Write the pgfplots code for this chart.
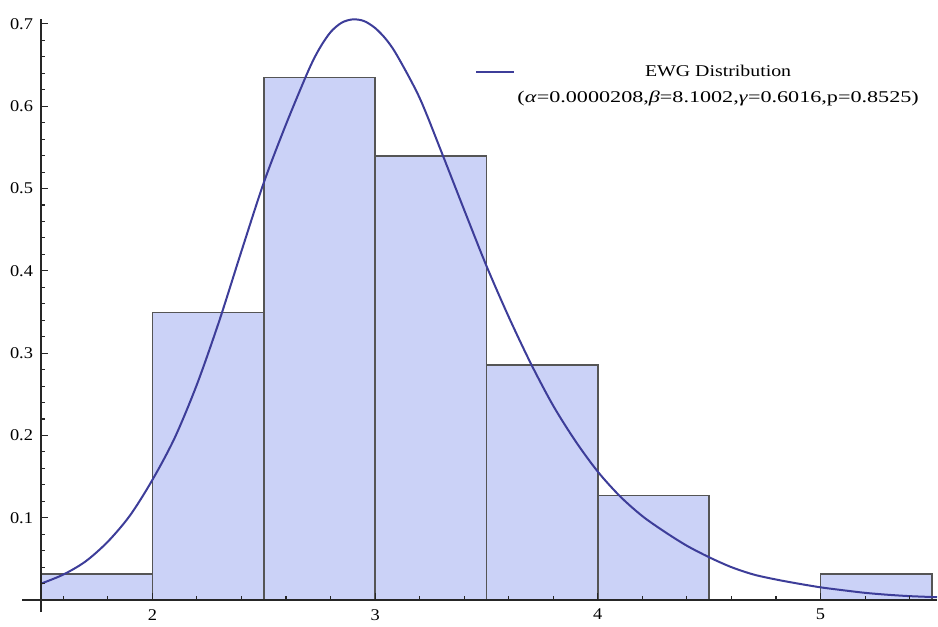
\documentclass[border=0pt]{standalone}
\usepackage{fontspec}
\setmainfont{Liberation Serif}[FakeStretch=1.12]
\newfontfamily\legA{Liberation Serif}[FakeStretch=1.21]
\newfontfamily\legB{Liberation Serif}[FakeStretch=1.35]
\usepackage{pgfplots}
\pgfplotsset{compat=1.18}
\definecolor{barfill}{RGB}{203,210,247}
\definecolor{curve}{RGB}{61,61,153}
\definecolor{baredge}{RGB}{85,85,85}
\begin{document}
\begin{tikzpicture}[font=\fontsize{8.2}{10}\selectfont]
\begin{axis}[
  scale only axis,
  width=448pt, height=290.7pt,
  xmin=1.5, xmax=5.523, ymin=0, ymax=0.7063,
  axis lines=left,
  axis line style={-, black!85, line width=0.75pt},
  clip=false,
  axis on top,
  xtick={2,3,4,5},
  minor xtick={1.6,1.8,2.2,2.4,2.6,2.8,3.2,3.4,3.6,3.8,4.2,4.4,4.6,4.8,5.2,5.4},
  ytick={0.1,0.2,0.3,0.4,0.5,0.6,0.7},
  minor ytick={0.02,0.04,0.06,0.08,0.12,0.14,0.16,0.18,0.22,0.24,0.26,0.28,0.32,0.34,0.36,0.38,0.42,0.44,0.46,0.48,0.52,0.54,0.56,0.58,0.62,0.64,0.66,0.68},
  tick align=inside,
  major tick length=3.65pt,
  minor tick length=2pt,
  tick style={black!85, line width=0.55pt},
  /pgf/number format/assume math mode=true,
  yticklabel style={/pgf/number format/fixed, /pgf/number format/precision=1, xshift=-0.5pt},
  xticklabel style={yshift=-1pt},
  legend style={draw=none, fill=none, inner sep=0pt, row sep=4pt,
    at={(rel axis cs:0.4844,0.9245)}, anchor=north west,
    cells={anchor=center}, nodes={inner sep=1pt}},
  legend image code/.code={\draw[#1] (0pt,0pt) -- (19pt,0pt);},
]
\addplot[ybar interval, fill=barfill, draw=baredge, line width=0.8pt, forget plot] coordinates {
  (1.5,0.031746) (2.0,0.349206) (2.5,0.634921) (3.0,0.539683)
  (3.5,0.285714) (4.0,0.126984) (4.5,0) (5.0,0.031746) (5.5,0)
};
\addplot[curve, line width=1pt, smooth] coordinates {
  (1.5,0.020) (1.6,0.031) (1.7,0.047) (1.8,0.071) (1.9,0.103)
  (2.0,0.146) (2.1,0.197) (2.2,0.262) (2.3,0.339) (2.4,0.424)
  (2.5,0.507) (2.6,0.578) (2.7,0.643) (2.75,0.670) (2.8,0.690) (2.85,0.7015)
  (2.9,0.7055) (2.95,0.7035) (3.0,0.695) (3.05,0.681) (3.1,0.661) (3.2,0.610)
  (3.3,0.543) (3.4,0.474) (3.5,0.406) (3.6,0.344) (3.7,0.287)
  (3.8,0.236) (3.9,0.193) (4.0,0.156) (4.1,0.126) (4.2,0.102)
  (4.3,0.083) (4.4,0.066) (4.5,0.052) (4.6,0.040) (4.7,0.031)
  (4.8,0.025) (4.9,0.020) (5.0,0.0155) (5.1,0.012) (5.2,0.0088)
  (5.3,0.0065) (5.4,0.0048) (5.523,0.0035)
};
\addlegendentry{\legA EWG Distribution}
\addlegendimage{empty legend}
\addlegendentry{\legB (\textit{α}=0.0000208,\textit{β}=8.1002,\textit{γ}=0.6016,p=0.8525)}
\draw[black!85, line width=0.75pt] (axis cs:1.415,0) -- (axis cs:1.5,0);
\draw[black!85, line width=0.75pt] (axis cs:1.5,-0.0147) -- (axis cs:1.5,0);
\path (rel axis cs:-0.0458,-0.0396) rectangle (rel axis cs:1.0011,1.0322);
\end{axis}
\end{tikzpicture}
\end{document}
